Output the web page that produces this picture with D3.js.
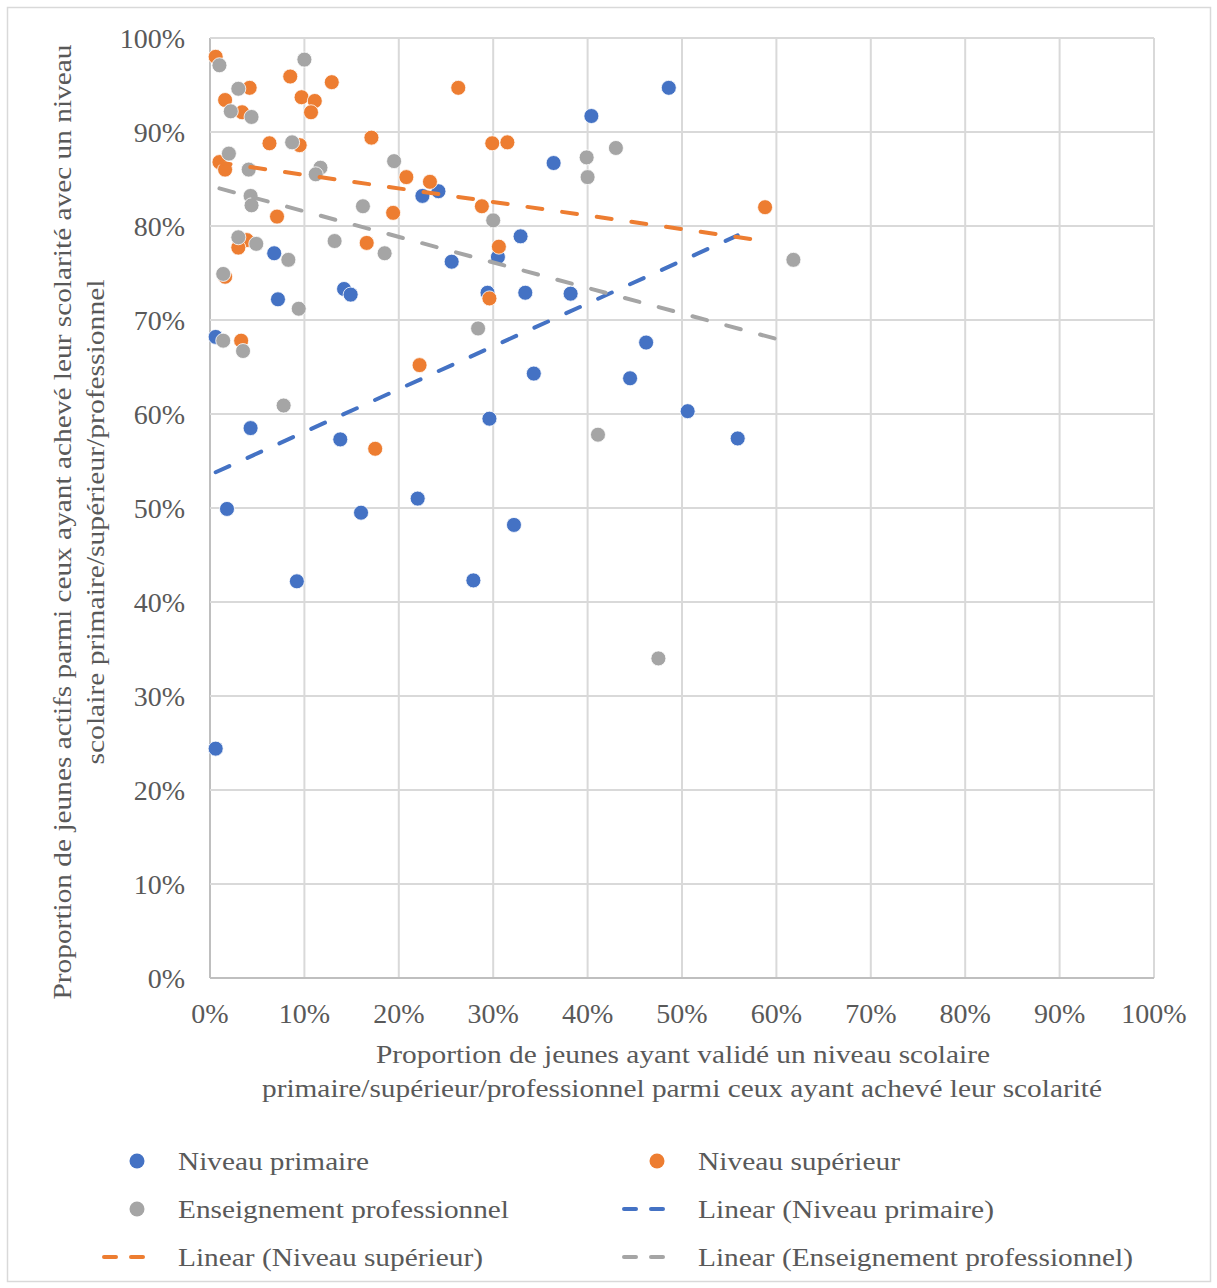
<!DOCTYPE html>
<meta charset="utf-8">
<body style="margin:0;background:#fff">
<style>
text { font-family: "Liberation Serif", "Times New Roman", serif; fill: #595959; }
.grid line { stroke: #d9d9d9; stroke-width: 2px; }
</style>
<script src="https://d3js.org/d3.v7.min.js"></script>
<script>

// [x %, y %]
var primaire = [
  [0.6, 24.4], [0.6, 68.2], [1.8, 49.9], [4.3, 58.5], [6.8, 77.1], [7.2, 72.2],
  [9.2, 42.2], [13.8, 57.3], [14.2, 73.3], [14.9, 72.7], [16.0, 49.5], [22.0, 51.0],
  [22.5, 83.2], [24.2, 83.7], [25.6, 76.2], [27.9, 42.3], [29.4, 72.9], [29.6, 59.5],
  [30.5, 76.7], [32.2, 48.2], [32.9, 78.9], [33.4, 72.9], [34.3, 64.3], [36.4, 86.7],
  [38.2, 72.8], [40.4, 91.7], [44.5, 63.8], [46.2, 67.6], [48.6, 94.7], [50.6, 60.3],
  [55.9, 57.4]
];
var superieur = [
  [0.6, 98.0], [1.6, 93.4], [4.2, 94.7], [3.4, 92.1], [1.0, 86.8], [1.6, 86.0],
  [6.3, 88.8], [8.5, 95.9], [9.7, 93.7], [11.1, 93.3], [10.7, 92.1], [9.5, 88.6],
  [12.9, 95.3], [7.1, 81.0], [3.9, 78.5], [3.0, 77.7], [1.6, 74.6], [3.3, 67.8],
  [17.1, 89.4], [16.6, 78.2], [17.5, 56.3], [19.4, 81.4], [20.8, 85.2], [23.3, 84.7],
  [22.2, 65.2], [26.3, 94.7], [28.8, 82.1], [29.9, 88.8], [31.5, 88.9], [30.6, 77.8],
  [29.6, 72.3], [58.8, 82.0]
];
var professionnel = [
  [1.0, 97.1], [10.0, 97.7], [3.0, 94.6], [2.2, 92.2], [4.4, 91.6], [2.0, 87.7],
  [4.1, 86.0], [8.7, 88.9], [11.7, 86.2], [11.2, 85.5], [19.5, 86.9], [4.3, 83.2],
  [4.4, 82.2], [16.2, 82.1], [3.0, 78.8], [4.9, 78.1], [13.2, 78.4], [18.5, 77.1],
  [8.3, 76.4], [1.4, 74.9], [9.4, 71.2], [1.4, 67.8], [3.5, 66.7], [7.8, 60.9],
  [30.0, 80.6], [28.4, 69.1], [39.9, 87.3], [40.0, 85.2], [43.0, 88.3], [41.1, 57.8],
  [47.5, 34.0], [61.8, 76.4]
];
// linear trendline end points
var trendPrimaire = [[0.6, 53.8], [55.9, 79.0]];
var trendSuperieur = [[0.6, 86.8], [58.8, 78.4]];
var trendProfessionnel = [[1.0, 84.0], [61.8, 67.5]];

var ticks = d3.range(0, 101, 10);
var seriesNames = ["Niveau primaire", "Niveau supérieur", "Enseignement professionnel"];
var colors = ["#4472c4", "#ed7d31", "#a5a5a5"];

var width = 1217, height = 1288;
var svg = d3.select("body").append("svg")
    .attr("width", width)
    .attr("height", height);

svg.append("rect")
    .attr("x", 7.5).attr("y", 7.5)
    .attr("width", 1203).attr("height", 1274)
    .attr("fill", "#fff").attr("stroke", "#d9d9d9").attr("stroke-width", 1.5);

var x = d3.scaleLinear().domain([0, 100]).range([210, 1154]);
var y = d3.scaleLinear().domain([0, 100]).range([978, 38]);

// gridlines
var grid = svg.append("g").attr("class", "grid");
grid.selectAll(".vx").data(ticks).enter().append("line")
    .attr("x1", d => x(d)).attr("x2", d => x(d))
    .attr("y1", y(0)).attr("y2", y(100))
    .style("stroke", d => d === 0 ? "#bfbfbf" : null);
grid.selectAll(".hy").data(ticks).enter().append("line")
    .attr("y1", d => y(d)).attr("y2", d => y(d))
    .attr("x1", x(0)).attr("x2", x(100))
    .style("stroke", d => d === 0 ? "#bfbfbf" : null);

// tick labels
var fmt = d => d + "%";
svg.selectAll(".ytick").data(ticks).enter().append("text")
    .attr("x", 185).attr("y", d => y(d))
    .attr("dy", "0.35em")
    .attr("text-anchor", "end")
    .attr("font-size", 28)
    .text(fmt);
svg.selectAll(".xtick").data(ticks).enter().append("text")
    .attr("x", d => x(d)).attr("y", 1013)
    .attr("dy", "0.35em")
    .attr("text-anchor", "middle")
    .attr("font-size", 28)
    .text(fmt);

// points
var all = [primaire, superieur, professionnel];
all.forEach(function(data, i) {
  svg.append("g").selectAll("circle").data(data).enter().append("circle")
      .attr("cx", d => x(d[0]))
      .attr("cy", d => y(d[1]))
      .attr("r", 7.5)
      .attr("fill", colors[i])
      .attr("stroke", "#fff")
      .attr("stroke-width", 0.8);
});

// trendlines
var line = d3.line().x(d => x(d[0])).y(d => y(d[1]));
[trendPrimaire, trendSuperieur, trendProfessionnel].forEach(function(t, i) {
  svg.append("path")
      .datum(t)
      .attr("d", line)
      .attr("fill", "none")
      .attr("stroke", colors[i])
      .attr("stroke-width", 4)
      .attr("stroke-linecap", "round")
      .attr("stroke-dasharray", "15,20");
});

// axis titles
var ty = svg.append("g").attr("transform", "translate(0," + 522 + ") rotate(-90)");
ty.append("text").attr("x", 0).attr("y", 71)
    .attr("text-anchor", "middle").attr("font-size", 25)
    .attr("textLength", 955).attr("lengthAdjust", "spacingAndGlyphs")
    .text("Proportion de jeunes actifs  parmi ceux ayant achevé leur scolarité avec un niveau");
ty.append("text").attr("x", 0).attr("y", 104)
    .attr("text-anchor", "middle").attr("font-size", 25)
    .attr("textLength", 485).attr("lengthAdjust", "spacingAndGlyphs")
    .text("scolaire primaire/supérieur/professionnel");

svg.append("text").attr("x", 683).attr("y", 1063)
    .attr("text-anchor", "middle").attr("font-size", 25)
    .attr("textLength", 614).attr("lengthAdjust", "spacingAndGlyphs")
    .text("Proportion de jeunes ayant  validé un niveau scolaire");
svg.append("text").attr("x", 682).attr("y", 1097)
    .attr("text-anchor", "middle").attr("font-size", 25)
    .attr("textLength", 840).attr("lengthAdjust", "spacingAndGlyphs")
    .text("primaire/supérieur/professionnel parmi ceux ayant achevé leur scolarité");

// legend
var legend = [
  {label: "Niveau primaire", type: "dot", c: 0, x: 137, y: 1161, w: 191},
  {label: "Niveau supérieur", type: "dot", c: 1, x: 657, y: 1161, w: 202},
  {label: "Enseignement professionnel", type: "dot", c: 2, x: 137, y: 1209, w: 331},
  {label: "Linear (Niveau primaire)", type: "line", c: 0, x: 657, y: 1209, w: 296},
  {label: "Linear (Niveau supérieur)", type: "line", c: 1, x: 137, y: 1257, w: 305},
  {label: "Linear (Enseignement professionnel)", type: "line", c: 2, x: 657, y: 1257, w: 435}
];
var lg = svg.selectAll(".legend").data(legend).enter().append("g")
    .attr("transform", d => "translate(" + d.x + "," + d.y + ")");
lg.filter(d => d.type === "dot").append("circle")
    .attr("r", 7.5).attr("fill", d => colors[d.c]);
lg.filter(d => d.type === "line").append("line")
    .attr("x1", -33).attr("x2", 13)
    .attr("stroke", d => colors[d.c])
    .attr("stroke-width", 4)
    .attr("stroke-linecap", "round")
    .attr("stroke-dasharray", "12,15");
lg.append("text")
    .attr("x", 41).attr("dy", "0.35em")
    .attr("font-size", 25)
    .attr("textLength", d => d.w).attr("lengthAdjust", "spacingAndGlyphs")
    .text(d => d.label);

</script>
</body>
</html>
